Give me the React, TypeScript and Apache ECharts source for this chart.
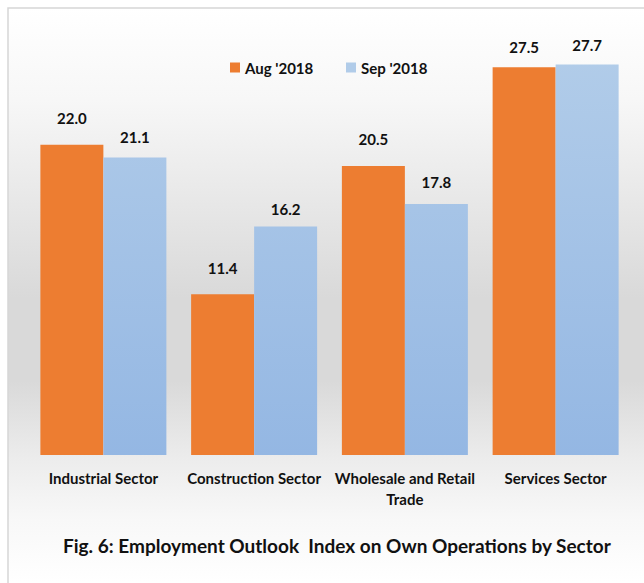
import React, { useEffect, useRef } from "react";
import * as echarts from "echarts";

const categories = ["Industrial Sector", "Construction Sector", "Wholesale and Retail\nTrade", "Services Sector"];
const aug2018 = [22.0, 11.4, 20.5, 27.5];
const sep2018 = [21.1, 16.2, 17.8, 27.7];
const seriesNames = ["Aug '2018", "Sep '2018"];
const titleText = "Fig. 6: Employment Outlook  Index on Own Operations by Sector";

// label gaps above bar tops (styling)
const augLabelGap = [19, 19, 19, 13];
const sepLabelGap = [13, 10, 15, 12];

const FONT = "Lato";

export default function App() {
  const ref = useRef<HTMLDivElement>(null);
  useEffect(() => {
    document.body.style.margin = "0";
    const chart = echarts.init(ref.current!, null, { renderer: "svg" });
    const blueGrad = new echarts.graphic.LinearGradient(
      0, 60, 0, 455,
      [
        { offset: 0, color: "#b1cce9" },
        { offset: 1, color: "#94b7e3" },
      ],
      true
    );
    const labelStyle = {
      show: true,
      position: "top" as const,
      fontFamily: FONT,
      fontWeight: "bold" as const,
      fontSize: 15,
      color: "#111",
      formatter: (p: any) => Number(p.value).toFixed(1),
    };
    const legendText = { fontFamily: FONT, fontWeight: "bold", fontSize: 15, color: "#111" };
    chart.setOption({
      animation: false,
      graphic: [
        {
          type: "rect",
          z: -10,
          silent: true,
          shape: { x: 8, y: 8, width: 700, height: 592 },
          style: {
            stroke: "#d6d6d6",
            lineWidth: 1.5,
            fill: new echarts.graphic.LinearGradient(0, 0, 0, 1, [
              { offset: 0, color: "#ffffff" },
              { offset: 0.155, color: "#f7f7f7" },
              { offset: 0.49, color: "#d9d9d9" },
              { offset: 0.63, color: "#d9d9d9" },
              { offset: 0.76, color: "#ececec" },
              { offset: 0.865, color: "#f8f8f8" },
              { offset: 0.97, color: "#ffffff" },
            ]),
          },
        },
      ],
      title: {
        text: titleText,
        left: 58,
        top: 531,
        textStyle: { fontFamily: FONT, fontWeight: "bold", fontSize: 19, color: "#111" },
      },
      legend: [
        {
          data: [seriesNames[0]],
          left: 225,
          top: 55,
          itemWidth: 10,
          itemHeight: 10,
          icon: "rect",
          textStyle: legendText,
        },
        {
          data: [seriesNames[1]],
          left: 341,
          top: 55,
          itemWidth: 10,
          itemHeight: 10,
          icon: "rect",
          textStyle: legendText,
        },
      ],
      grid: { left: 28, right: 13, top: 32, bottom: 128, containLabel: false },
      xAxis: {
        type: "category",
        data: categories,
        axisLine: { show: false },
        axisTick: { show: false },
        axisLabel: {
          interval: 0,
          margin: 12,
          fontFamily: FONT,
          fontWeight: "bold",
          fontSize: 15,
          lineHeight: 21,
          color: "#111",
        },
      },
      yAxis: {
        type: "value",
        min: 0,
        max: 30,
        show: false,
        splitLine: { show: false },
      },
      series: [
        {
          name: seriesNames[0],
          type: "bar",
          data: aug2018.map((v, i) => ({ value: v, label: { distance: augLabelGap[i] } })),
          barWidth: 63,
          barGap: "0%",
          itemStyle: { color: "#ed7d31" },
          label: labelStyle,
        },
        {
          name: seriesNames[1],
          type: "bar",
          data: sep2018.map((v, i) => ({ value: v, label: { distance: sepLabelGap[i] } })),
          barWidth: 63,
          barGap: "0%",
          itemStyle: { color: blueGrad },
          label: labelStyle,
        },
      ],
    });
    return () => chart.dispose();
  }, []);
  return <div ref={ref} style={{ width: 644, height: 583 }} />;
}
